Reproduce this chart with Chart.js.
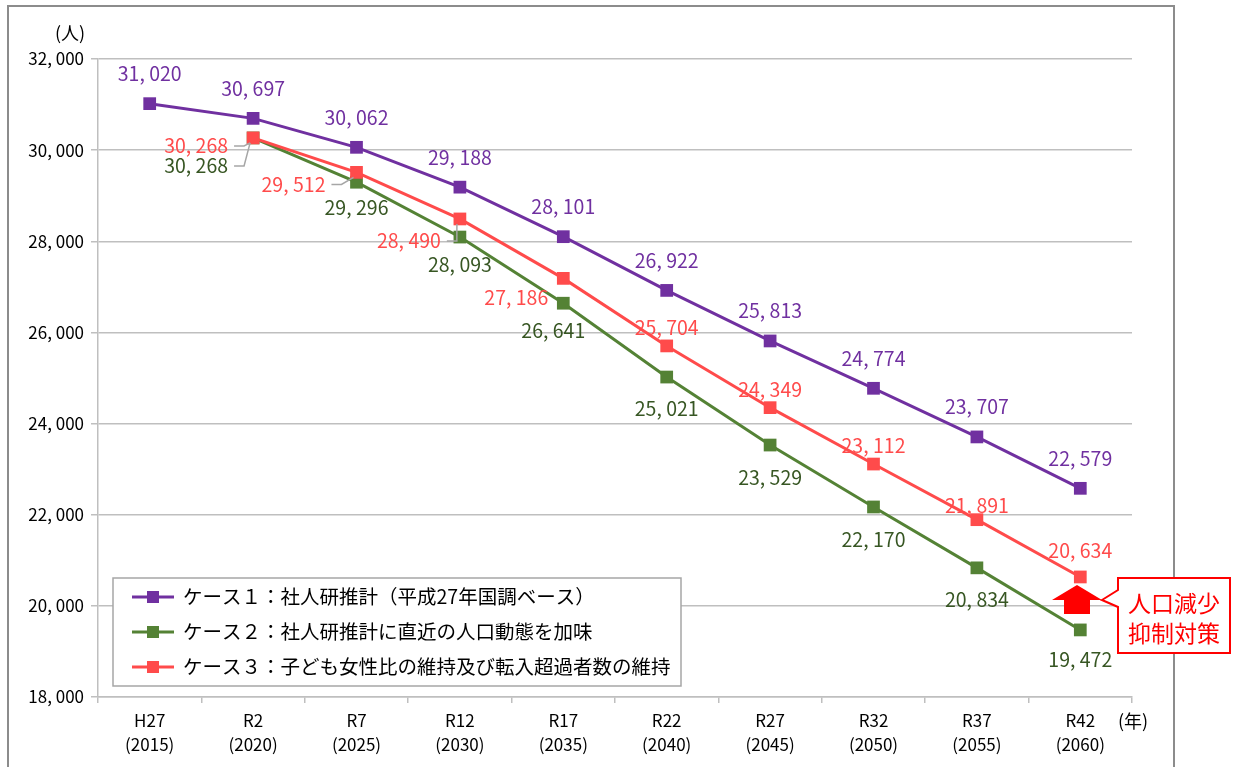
<!DOCTYPE html>
<html lang="ja">
<head>
<meta charset="utf-8">
<script src="https://cdn.jsdelivr.net/npm/chart.js@4.4.1/dist/chart.umd.min.js"></script>
<style>
  body { margin: 0; background: #fff; }
  canvas { display: block; }
</style>
</head>
<body>
<canvas id="chart" width="1233" height="767"></canvas>
<script>
// data
const eraLabels = ['H27', 'R2', 'R7', 'R12', 'R17', 'R22', 'R27', 'R32', 'R37', 'R42'];
const yearLabels = ['(2015)', '(2020)', '(2025)', '(2030)', '(2035)', '(2040)', '(2045)', '(2050)', '(2055)', '(2060)'];
const case1 = [31020, 30697, 30062, 29188, 28101, 26922, 25813, 24774, 23707, 22579];
const case2 = [null, 30268, 29296, 28093, 26641, 25021, 23529, 22170, 20834, 19472];
const case3 = [null, 30268, 29512, 28490, 27186, 25704, 24349, 23112, 21891, 20634];
const seriesNames = [
    'ケース１：社人研推計（平成27年国調ベース）',
    'ケース２：社人研推計に直近の人口動態を加味',
    'ケース３：子ども女性比の維持及び転入超過者数の維持'
];
const yTicks = [18000, 20000, 22000, 24000, 26000, 28000, 30000, 32000];

const FONT = '"Noto Sans CJK JP", "Noto Sans", sans-serif';
const lineColors = ['#7030A0', '#548235', '#FF4B4B'];
const textColors = ['#7030A0', '#375623', '#FF4B4B'];

// where each value label sits, relative to its point [dx, dy, leader line]
const labelOffsets = [
    case1.map(() => [0, -30, false]),
    [null, [-57, 28, true], [0, 25, false], [0, 28, false], [-10, 27, false], [0, 32, false], [0, 33, false], [0, 33, false], [0, 32, false], [0, 30, false]],
    [null, [-57, 8, true], [-63, 12, true], [-51, 22, true], [-47, 19, false], [0, -18, false], [0, -18, false], [0, -18, false], [0, -14, false], [0, -26, false]]
];

function fmt(v) {
    return v.toLocaleString('en-US').replace(',', ', ');
}

const valueLabels = {
    id: 'valueLabels',
    afterDatasetsDraw(chart) {
        const ctx = chart.ctx;
        ctx.save();
        ctx.font = '19.5px ' + FONT;
        ctx.textAlign = 'center';
        ctx.textBaseline = 'middle';
        chart.data.datasets.forEach((ds, d) => {
            const meta = chart.getDatasetMeta(d);
            ds.data.forEach((v, i) => {
                if (v === null) return;
                const pt = meta.data[i];
                const off = labelOffsets[d][i];
                const cx = pt.x + off[0];
                const cy = pt.y + off[1];
                const text = fmt(v);
                if (off[2]) {
                    const right = cx + ctx.measureText(text).width / 2 + 6;
                    ctx.strokeStyle = '#A6A6A6';
                    ctx.lineWidth = 1.5;
                    ctx.beginPath();
                    ctx.moveTo(right, cy);
                    ctx.lineTo(right + 10, cy);
                    ctx.lineTo(pt.x - 3, pt.y + 5);
                    ctx.stroke();
                }
                ctx.fillStyle = textColors[d];
                ctx.fillText(text, cx, cy);
            });
        });
        ctx.restore();
    }
};

const extras = {
    id: 'extras',
    beforeDraw(chart) {
        const ctx = chart.ctx;
        ctx.save();
        ctx.fillStyle = '#fff';
        ctx.fillRect(0, 0, chart.width, chart.height);
        // outer frame
        ctx.strokeStyle = '#8C8C8C';
        ctx.lineWidth = 2;
        ctx.strokeRect(8, 6, 1166, 800);
        ctx.restore();
    },
    afterDraw(chart) {
        const ctx = chart.ctx;
        ctx.save();
        // unit labels
        ctx.font = '18px ' + FONT;
        ctx.fillStyle = '#000';
        ctx.textAlign = 'center';
        ctx.textBaseline = 'middle';
        ctx.fillText('(人)', 70, 33);
        ctx.fillText('(年)', 1133, 721);

        // legend box
        const lx = 113, ly = 578, lw = 568, lh = 108;
        ctx.fillStyle = '#fff';
        ctx.fillRect(lx, ly, lw, lh);
        ctx.strokeStyle = '#A6A6A6';
        ctx.lineWidth = 1.5;
        ctx.strokeRect(lx, ly, lw, lh);
        ctx.font = '19.5px ' + FONT;
        ctx.textAlign = 'left';
        chart.data.datasets.forEach((ds, d) => {
            const y = 597 + d * 35;
            ctx.strokeStyle = lineColors[d];
            ctx.lineWidth = 3;
            ctx.beginPath();
            ctx.moveTo(132, y);
            ctx.lineTo(174, y);
            ctx.stroke();
            ctx.fillStyle = lineColors[d];
            ctx.fillRect(147, y - 6, 12, 12);
            ctx.fillStyle = '#000';
            ctx.fillText(ds.label, 183, y);
        });

        // red arrow
        ctx.fillStyle = '#FF0000';
        ctx.beginPath();
        ctx.moveTo(1077, 585);
        ctx.lineTo(1102, 600);
        ctx.lineTo(1090, 600);
        ctx.lineTo(1090, 614);
        ctx.lineTo(1064, 614);
        ctx.lineTo(1064, 600);
        ctx.lineTo(1052, 600);
        ctx.closePath();
        ctx.fill();

        // callout
        ctx.fillStyle = '#fff';
        ctx.strokeStyle = '#FF0000';
        ctx.lineWidth = 2;
        ctx.beginPath();
        ctx.moveTo(1118, 578);
        ctx.lineTo(1230, 578);
        ctx.lineTo(1230, 653);
        ctx.lineTo(1118, 653);
        ctx.lineTo(1118, 607);
        ctx.lineTo(1102, 600);
        ctx.lineTo(1118, 590);
        ctx.closePath();
        ctx.fill();
        ctx.stroke();
        ctx.fillStyle = '#FF0000';
        ctx.font = '23px ' + FONT;
        ctx.textAlign = 'center';
        ctx.fillText('人口減少', 1174, 603);
        ctx.fillText('抑制対策', 1174, 633);
        ctx.restore();
    }
};

new Chart(document.getElementById('chart'), {
    type: 'line',
    data: {
        labels: eraLabels.map((e, i) => [e, yearLabels[i]]),
        datasets: [case1, case2, case3].map((values, d) => ({
            label: seriesNames[d],
            data: values,
            borderColor: lineColors[d],
            backgroundColor: lineColors[d],
            borderWidth: 3,
            pointStyle: 'rect',
            pointRadius: 9,
            pointHoverRadius: 9,
            pointBorderWidth: 0,
            tension: 0,
            order: [0, 2, 1][d]
        }))
    },
    options: {
        responsive: false,
        animation: false,
        events: [],
        layout: { padding: { left: 0, top: 59, right: 101, bottom: 0 } },
        plugins: {
            legend: { display: false },
            tooltip: { enabled: false }
        },
        scales: {
            x: {
                offset: true,
                grid: { drawOnChartArea: false, offset: true, tickLength: 6, color: '#BFBFBF', lineWidth: 1.5 },
                border: { color: '#BFBFBF', width: 1.5 },
                ticks: {
                    color: '#000',
                    font: { family: FONT, size: 17, lineHeight: 1.4 },
                    padding: 6,
                    maxRotation: 0,
                    autoSkip: false
                },
                afterFit(scale) { scale.height = 70; }
            },
            y: {
                min: 18000,
                max: 32000,
                afterBuildTicks(scale) { scale.ticks = yTicks.map(v => ({ value: v })); },
                grid: { color: '#BFBFBF', lineWidth: 1.5, tickLength: 7 },
                border: { color: '#BFBFBF', width: 1.5 },
                ticks: {
                    color: '#000',
                    font: { family: FONT, size: 17 },
                    padding: 7,
                    callback: v => fmt(v)
                },
                afterFit(scale) { scale.width = 98; }
            }
        }
    },
    plugins: [extras, valueLabels]
});
</script>
</body>
</html>
